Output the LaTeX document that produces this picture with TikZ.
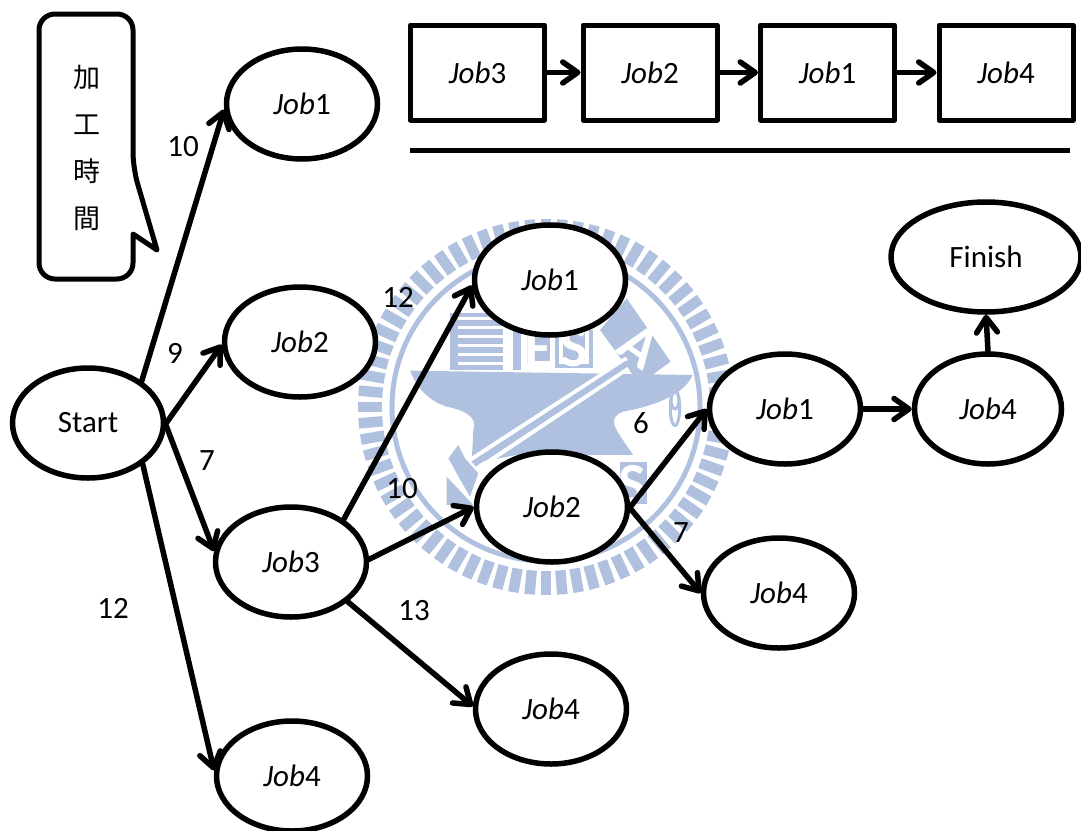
\documentclass[tikz,border=0pt]{standalone}
\usepackage{fontspec}
\setmainfont{Carlito}
\newfontfamily\cjkfont{Noto Sans CJK TC}
\usetikzlibrary{positioning, arrows.meta, shapes.geometric}
\definecolor{seal}{HTML}{B0C1DF}

\begin{document}
\begin{tikzpicture}[
    x=1pt, y=-1pt,
    line join=round,
    >={Straight Barb[length=15pt,width=21pt,line width=5.5pt,round]},
    job/.style={draw=black, line width=5.5pt, fill=white, ellipse, inner sep=0pt, minimum width=151pt, minimum height=110pt, font=\fontsize{31}{33}\selectfont},
    jobbox/.style={draw=black, line width=5pt, fill=white, rectangle, inner sep=0pt, minimum width=134pt, minimum height=95pt, font=\fontsize{31}{33}\selectfont},
    flow/.style={->, draw=black, line width=5.5pt, line cap=round},
    cost/.style={font=\fontsize{31}{33}\selectfont, inner sep=0pt},
    seallabel/.style={text=white, inner sep=0pt, font=\bfseries\fontsize{58}{60}\selectfont}
]

\useasboundingbox (0,0) rectangle (1081,830);

% Seal behind the tree
\begin{scope}[shift={(546,407)}]
    \foreach \ang in {0,5,...,355}
        \draw[seal, line width=10.5pt] (\ang:164) -- (\ang:188);
    \draw[seal, line width=5pt] (0,0) circle (154);
\end{scope}

% Anvil, books and hammer, in crop units
\begin{scope}[shift={(350,210)}, x=0.3333pt, y=-0.3333pt]
    \fill[seal] (180,482) -- (1028,495) .. controls (1000,560) and (900,590) .. (820,605) .. controls (770,625) and (790,650) .. (850,735) -- (500,735) -- (365,760) -- (370,660) .. controls (385,620) and (340,600) .. (290,590) .. controls (230,570) and (200,530) .. (180,482) -- cycle;
    \fill[seal] (300,310) rectangle (460,480);
    \foreach \ypos in {320,347,374,401,428,455}
        \fill[white] (325,\ypos) rectangle (460,\ypos+10);
    \fill[seal] (490,360) rectangle (513,480);
    \fill[seal] (530,360) rectangle (600,460);
    \fill[seal] (615,360) rectangle (730,475);
    \fill[white] (628,360) rectangle (718,462);
    \fill[seal] (640,360) rectangle (705,450);
    \fill[seal] (750,360) -- (830,265) -- (962,455) -- (875,518) -- (845,490) -- cycle;
    \fill[seal] (295,745) -- (325,705) -- (345,745) -- (385,790) -- (360,860) -- (320,790) -- cycle;
    \fill[seal] (290,800) -- (370,885) -- (290,885) -- cycle;
    \fill[seal] (810,755) rectangle (892,882);
    \draw[white, line width=4pt] (360,750) -- (830,445);
    \draw[white, line width=4pt] (385,775) -- (835,475);
    \draw[seal, line width=6pt] (372,762) -- (832,460);
    \node[seallabel] (sealE) at (567,415) {E};
    \node[seallabel] (sealS) at (672,412) {S};
    \node[seallabel, rotate=-35] (sealA) at (868,408) {A};
    \node[seallabel] (sealT) at (848,825) {S};
    \draw[seal, line width=3pt] (975,595) ellipse (14 and 52);
    \draw[seal, line width=3pt] (975,570) ellipse (12 and 27);
\end{scope}

% Schedule at the top
\node[jobbox] (boxthree) at (477.5,72.5) {\textit{Job}3};
\node[jobbox] (boxtwo) at (650,72.5) {\textit{Job}2};
\node[jobbox] (boxone) at (827.5,72.5) {\textit{Job}1};
\node[jobbox] (boxfour) at (1006,72.5) {\textit{Job}4};
\draw[flow] (boxthree.east) -- (boxtwo.west);
\draw[flow] (boxtwo.east) -- (boxone.west);
\draw[flow] (boxone.east) -- (boxfour.west);
\draw[draw=black, line width=5pt] (410,150) -- (1070,150);

% Callout
\draw[draw=black, line width=5pt, rounded corners=16pt] (39,14) -- (133,14) -- (133,168) [sharp corners] -- (157,250) -- (133,234) [rounded corners=16pt] -- (133,279) -- (39,279) -- cycle;
\node[font=\cjkfont\fontsize{27}{47}\selectfont, align=center, inner sep=0pt] (calloutlabel) at (87,147.5) {加\\工\\時\\間};

% Tree nodes
\node[job] (start) at (88,423) {Start};
\node[job] (firstone) at (302,104) {\textit{Job}1};
\node[job] (firsttwo) at (300,342) {\textit{Job}2};
\node[job] (firstthree) at (291,562) {\textit{Job}3};
\node[job] (firstfour) at (292,776) {\textit{Job}4};
\node[job] (secondone) at (550,280) {\textit{Job}1};
\node[job] (secondtwo) at (552,507) {\textit{Job}2};
\node[job] (secondfour) at (551,709) {\textit{Job}4};
\node[job] (thirdone) at (785,409) {\textit{Job}1};
\node[job] (thirdfour) at (779,593) {\textit{Job}4};
\node[job, minimum width=147pt] (lastfour) at (988,409) {\textit{Job}4};
\node[job, minimum width=190pt] (finish) at (986,257) {Finish};

% Connectors
\draw[flow] (start.38) -- (firstone.184);
\draw[flow] (start.0) -- (firsttwo.182);
\draw[flow] (start.-2) -- (firstthree.172);
\draw[flow] (start.-37) -- (firstfour.176);
\draw[flow] (firstthree.39) -- (secondone.184);
\draw[flow] (firstthree.2) -- (secondtwo.180);
\draw[flow] (firstthree.-35) -- (secondfour.178);
\draw[flow] (secondtwo.0) -- (thirdone.180);
\draw[flow] (secondtwo.-1) -- (thirdfour.180);
\draw[flow] (thirdone.0) -- (lastfour.180);
\draw[flow] (lastfour.90) -- (finish.270);

% Processing times
\node[cost] (costa) at (183,147) {10};
\node[cost] (costb) at (175,353) {9};
\node[cost] (costc) at (207,461) {7};
\node[cost] (costd) at (113,608) {12};
\node[cost] (coste) at (398,297) {12};
\node[cost] (costf) at (402,489) {10};
\node[cost] (costg) at (414,611) {13};
\node[cost] (costh) at (641,423) {6};
\node[cost] (costi) at (681,533) {7};

\end{tikzpicture}
\end{document}
